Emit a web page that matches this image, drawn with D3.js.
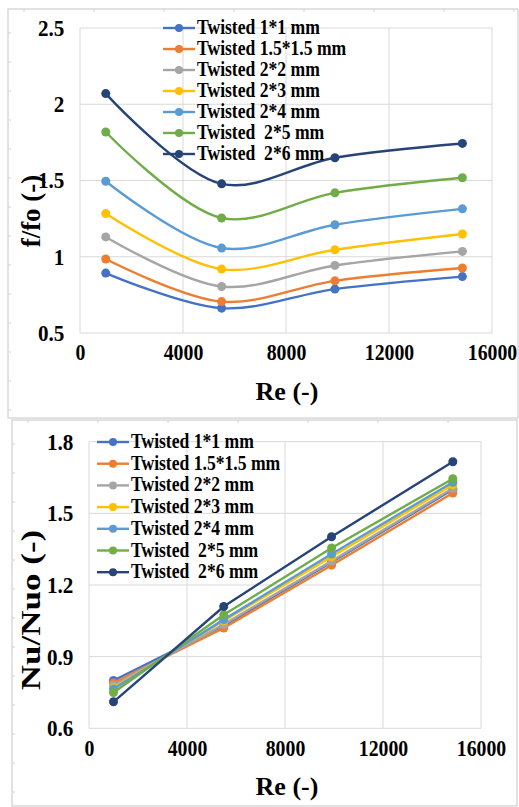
<!DOCTYPE html>
<html>
<head>
<meta charset="utf-8">
<script src="https://cdn.jsdelivr.net/npm/d3@7"></script>
<style>
  body { margin: 0; background: #fff; }
  svg { display: block; }
  text { font-family: "Liberation Serif", "DejaVu Serif", serif !important; font-weight: bold; fill: #000; }
</style>
</head>
<body>
<svg id="chart" width="519" height="807"></svg>
<script>
// Reynolds numbers (x values)
const reValues = [1000, 5500, 9900, 14850];

const seriesNames = ["Twisted 1*1 mm", "Twisted 1.5*1.5 mm", "Twisted 2*2 mm", "Twisted 2*3 mm",
  "Twisted 2*4 mm", "Twisted  2*5 mm", "Twisted  2*6 mm"];
const seriesColors = ["#4472C4", "#ED7D31", "#A5A5A5", "#FFC000", "#5B9BD5", "#70AD47", "#264478"];

// friction factor ratio f/fo
const ff_1x1   = [0.893, 0.663, 0.788, 0.870];
const ff_15x15 = [0.985, 0.706, 0.842, 0.926];
const ff_2x2   = [1.130, 0.805, 0.943, 1.035];
const ff_2x3   = [1.283, 0.919, 1.046, 1.149];
const ff_2x4   = [1.495, 1.057, 1.210, 1.314];
const ff_2x5   = [1.818, 1.254, 1.419, 1.518];
const ff_2x6   = [2.070, 1.478, 1.649, 1.743];

// Nusselt ratio Nu/Nuo
const nu_1x1   = [0.800, 1.030, 1.295, 1.600];
const nu_15x15 = [0.790, 1.020, 1.283, 1.585];
const nu_2x2   = [0.780, 1.035, 1.300, 1.605];
const nu_2x3   = [0.770, 1.050, 1.318, 1.620];
const nu_2x4   = [0.765, 1.055, 1.330, 1.630];
const nu_2x5   = [0.750, 1.075, 1.355, 1.645];
const nu_2x6   = [0.711, 1.110, 1.402, 1.716];

const xTicks = [0, 4000, 8000, 12000, 16000];
const ffTicks = [0.5, 1, 1.5, 2, 2.5];
const nuTicks = [0.6, 0.9, 1.2, 1.5, 1.8];

const ffSeries = [ff_1x1, ff_15x15, ff_2x2, ff_2x3, ff_2x4, ff_2x5, ff_2x6];
const nuSeries = [nu_1x1, nu_15x15, nu_2x2, nu_2x3, nu_2x4, nu_2x5, nu_2x6];

const svg = d3.select("#chart");

// frame with little ruler marks, like the pasted excel picture
function drawFrame(x, y, w, h) {
  svg.append("rect").attr("x", x).attr("y", y).attr("width", w).attr("height", h)
    .attr("fill", "none").attr("stroke", "#cfcfcf").attr("stroke-width", 1.2);
  const tk = svg.append("g").attr("stroke", "#d4d4d4").attr("stroke-width", 1);
  d3.range(x + 16, x + w, 70).forEach(t => tk.append("line")
    .attr("x1", t).attr("x2", t).attr("y1", y).attr("y2", y + 3));
  d3.range(y + 24, y + h, 29).forEach(t => tk.append("line")
    .attr("x1", x).attr("x2", x + 3).attr("y1", t).attr("y2", t));
}

function drawChart(cfg) {
  const x = d3.scaleLinear().domain([0, 16000]).range([cfg.left, cfg.right]);
  const y = d3.scaleLinear().domain(cfg.yDomain).range([cfg.bottom, cfg.top]);
  const g = svg.append("g");

  // grid
  g.append("g").selectAll("line").data(cfg.yTicks).join("line")
    .attr("x1", cfg.left).attr("x2", cfg.right)
    .attr("y1", d => y(d)).attr("y2", d => y(d))
    .attr("stroke", "#d9d9d9").attr("stroke-width", 1);
  g.append("g").selectAll("line").data(xTicks).join("line")
    .attr("x1", d => x(d)).attr("x2", d => x(d))
    .attr("y1", cfg.top).attr("y2", cfg.bottom)
    .attr("stroke", "#d9d9d9").attr("stroke-width", 1);

  // axes (labels only)
  const ya = g.append("g").attr("transform", `translate(${cfg.left},0)`)
    .call(d3.axisLeft(y).tickValues(cfg.yTicks).tickSize(0).tickPadding(17).tickFormat(d3.format("")));
  const xa = g.append("g").attr("transform", `translate(0,${cfg.bottom})`)
    .call(d3.axisBottom(x).tickValues(xTicks).tickSize(0).tickPadding(11).tickFormat(d3.format("d")));
  [ya, xa].forEach(a => {
    a.attr("font-family", null).attr("font-size", null);
    a.select(".domain").remove();
    a.selectAll("text").style("font-size", "23px").attr("fill", "#000");
  });
  ya.selectAll("text").attr("transform", "scale(0.92,1)");
  xa.selectAll("text").attr("transform", "scale(0.86,1)");

  // lines + markers
  const line = d3.line().x((d, i) => x(reValues[i])).y(d => y(d)).curve(cfg.curve);
  cfg.series.forEach((vals, k) => {
    g.append("path").datum(vals).attr("d", line)
      .attr("fill", "none").attr("stroke", seriesColors[k]).attr("stroke-width", 2.4);
    g.append("g").selectAll("circle").data(vals).join("circle")
      .attr("cx", (d, i) => x(reValues[i])).attr("cy", d => y(d)).attr("r", 4.5)
      .attr("fill", seriesColors[k]);
  });

  // legend
  const lg = g.append("g");
  seriesNames.forEach((name, k) => {
    const ly = cfg.legY + k * cfg.legStep;
    lg.append("line").attr("x1", cfg.legX).attr("x2", cfg.legX + 32).attr("y1", ly).attr("y2", ly)
      .attr("stroke", seriesColors[k]).attr("stroke-width", 2.4);
    lg.append("circle").attr("cx", cfg.legX + 16).attr("cy", ly).attr("r", 4).attr("fill", seriesColors[k]);
    lg.append("text").attr("transform", `translate(${cfg.legX + 34},${ly + 6}) scale(0.88,1)`)
      .style("font-size", "20px").style("white-space", "pre").text(name);
  });

  // titles
  g.append("text").attr("x", 287).attr("y", cfg.bottom + 67).attr("text-anchor", "middle")
    .style("font-size", "26px").text("Re (-)");
  g.append("text").attr("transform", `translate(40,${cfg.yTitleY}) rotate(-90) scale(${cfg.yTitleScale},1)`)
    .attr("text-anchor", "middle").style("font-size", cfg.yTitleSize).text(cfg.yTitle);
}

drawFrame(8, 9, 510, 409);
drawFrame(12, 420, 505, 386);

drawChart({
  left: 80, right: 492, top: 28, bottom: 333,
  yDomain: [0.5, 2.5], yTicks: ffTicks, series: ffSeries,
  curve: d3.curveCatmullRom.alpha(0.5),
  legX: 163, legY: 28, legStep: 21,
  yTitle: "f/fo (-)", yTitleY: 211, yTitleScale: 1, yTitleSize: "27px"
});

drawChart({
  left: 89, right: 481, top: 441.7, bottom: 728.3,
  yDomain: [0.6, 1.8], yTicks: nuTicks, series: nuSeries,
  curve: d3.curveLinear,
  legX: 97, legY: 442, legStep: 21.7,
  yTitle: "Nu/Nuo (-)", yTitleY: 610, yTitleScale: 1.25, yTitleSize: "28px"
});
</script>
</body>
</html>
